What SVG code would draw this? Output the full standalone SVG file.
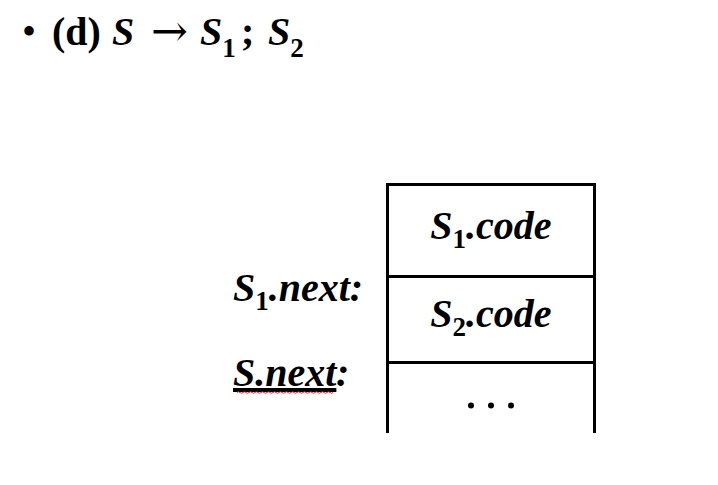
<svg xmlns="http://www.w3.org/2000/svg" width="718" height="485" viewBox="0 0 718 485">
<style>
  .t { font-family: "Liberation Serif", "Times New Roman", serif; font-size: 40px; fill: #000; }
  .bi { font-weight: bold; font-style: italic; }
  .b { font-weight: bold; }
  .sub { font-size: 27px; font-style: normal; font-weight: bold; }
  .arr { font-family: "DejaVu Serif", serif; font-size: 44px; fill: #000; }
  .box { fill: none; stroke: #000; stroke-width: 3; stroke-linecap: square; }
</style>
<rect width="718" height="485" fill="#fff"/>
<g id="title">
  <text class="t" x="22" y="45" font-size="42">•</text>
  <text class="t b" x="52" y="45" font-size="41">(d)</text>
  <text class="t bi" x="112" y="45" font-size="42">S</text>
  <text class="arr" x="151" y="46">→</text>
  <text class="t bi" x="200" y="45" font-size="42">S<tspan class="sub" font-size="30" dy="12">1</tspan></text>
  <text class="t b" x="241" y="45" font-size="41">;</text>
  <text class="t bi" x="268" y="45" font-size="42">S<tspan class="sub" font-size="30" dy="12">2</tspan></text>
</g>
<g id="memory">
  <path class="box" d="M387.5,431.5 V184.5 H594.5 V431.5"/>
  <line class="box" x1="387.5" y1="276.5" x2="594.5" y2="276.5"/>
  <line class="box" x1="387.5" y1="362.5" x2="594.5" y2="362.5"/>
</g>
<g id="cell-s1code">
  <text class="t bi" x="491" y="239" text-anchor="middle">S<tspan class="sub" dy="9">1</tspan><tspan dy="-9">.code</tspan></text>
</g>
<g id="cell-s2code">
  <text class="t bi" x="491" y="327" text-anchor="middle">S<tspan class="sub" dy="9">2</tspan><tspan dy="-9">.code</tspan></text>
</g>
<g id="cell-dots">
  <circle cx="471" cy="405.5" r="3"/>
  <circle cx="491" cy="405.5" r="3"/>
  <circle cx="511" cy="405.5" r="3"/>
</g>
<g id="label-s1next">
  <text class="t bi" x="233" y="301">S<tspan class="sub" dy="9">1</tspan><tspan dy="-9">.next:</tspan></text>
</g>
<g id="label-snext">
  <text class="t bi" x="233" y="386" text-decoration="underline">S.next</text>
  <text class="t bi" x="336" y="386">:</text>
  <path d="M237,392.5 q1.5,-1.5 3,0 t3,0 t3,0 t3,0 t3,0 t3,0 t3,0 t3,0 t3,0 t3,0 t3,0 t3,0 t3,0 t3,0 t3,0 t3,0 t3,0 t3,0 t3,0 t3,0 t3,0 t3,0 t3,0 t3,0 t3,0 t3,0 t3,0 t3,0 t3,0 t3,0 t3,0 t3,0" fill="none" stroke="#e03030" stroke-width="1"/>
</g>
</svg>
